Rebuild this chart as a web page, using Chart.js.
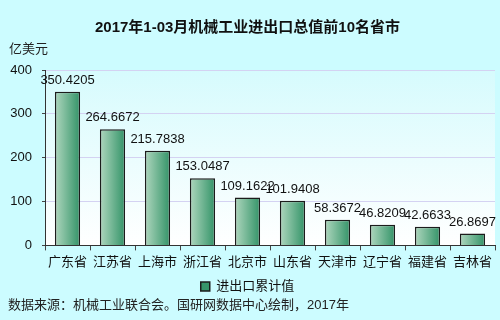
<!DOCTYPE html>
<html>
<head>
<meta charset="utf-8">
<script src="https://cdn.jsdelivr.net/npm/chart.js@4"></script>
<style>
  html, body { margin: 0; padding: 0; }
  body { width: 500px; height: 320px; background: #ccfcff; position: relative; overflow: hidden;
         font-family: "Liberation Sans", Arial, "Noto Sans CJK SC", sans-serif; }
  #wrap { position: absolute; left: 0; top: 0; width: 500px; height: 320px; }
  .note { position: absolute; font-size: 13px; color: #222; }
</style>
</head>
<body>
<div id="wrap"><canvas id="myChart" width="500" height="320"></canvas></div>
<div class="note" style="left:9px; top:38px;">亿美元</div>
<div class="note" style="left:8px; top:294px;">数据来源：机械工业联合会。国研网数据中心绘制，2017年</div>
<script>
// 2017年1-03月机械工业进出口总值前10名省市
var categories = ['广东省', '江苏省', '上海市', '浙江省', '北京市', '山东省', '天津市', '辽宁省', '福建省', '吉林省'];
var values = [350.4205, 264.6672, 215.7838, 153.0487, 109.1622, 101.9408, 58.3672, 46.8209, 42.6633, 26.8697];
var valueLabels = ['350.4205', '264.6672', '215.7838', '153.0487', '109.1622', '101.9408', '58.3672', '46.8209', '42.6633', '26.8697'];
var yTicks = [0, 100, 200, 300, 400];
var seriesName = '进出口累计值';

var FONT = '"Liberation Sans", Arial, "Noto Sans CJK SC", sans-serif';

// 柱子的渐变色（左浅右深）
function barFill(context) {
    var chart = context.chart;
    var ctx = chart.ctx;
    if (!chart.chartArea || context.dataIndex === undefined) return '#6cb48e';
    var x = chart.scales.x.getPixelForValue(context.dataIndex);
    var g = ctx.createLinearGradient(x - 12, 0, x + 12, 0);
    g.addColorStop(0, '#acd5bc');
    g.addColorStop(1, '#36956a');
    return g;
}

// 绘图区背景
var plotBg = {
    id: 'plotBg',
    beforeDraw: function(chart) {
        var a = chart.chartArea, ctx = chart.ctx;
        var g = ctx.createLinearGradient(0, a.top, 0, a.bottom);
        g.addColorStop(0, '#d6fbfd');
        g.addColorStop(1, '#ffffff');
        ctx.save();
        ctx.fillStyle = g;
        ctx.fillRect(a.left, a.top, a.right - a.left, a.bottom - a.top);
        ctx.restore();
    }
};

// 柱顶数值
var valueText = {
    id: 'valueText',
    afterDatasetsDraw: function(chart) {
        var ctx = chart.ctx;
        var meta = chart.getDatasetMeta(0);
        ctx.save();
        ctx.font = '13px ' + FONT;
        ctx.fillStyle = '#111';
        ctx.textAlign = 'center';
        ctx.textBaseline = 'bottom';
        meta.data.forEach(function(bar, i) {
            ctx.fillText(valueLabels[i], bar.x, bar.y - 5);
        });
        ctx.restore();
    }
};

var ctx = document.getElementById('myChart').getContext('2d');
var myChart = new Chart(ctx, {
    type: 'bar',
    data: {
        labels: categories,
        datasets: [{
            label: seriesName,
            data: values,
            backgroundColor: barFill,
            borderColor: '#1c1c1c',
            borderWidth: 1.5,
            categoryPercentage: 1,
            barPercentage: 0.56
        }]
    },
    options: {
        responsive: false,
        animation: false,
        devicePixelRatio: 1,
        layout: { padding: { left: 0, right: 5, top: 0, bottom: 17 } },
        plugins: {
            title: {
                display: true,
                text: '2017年1-03月机械工业进出口总值前10名省市',
                color: '#111',
                font: { family: FONT, size: 15, weight: 'bold' },
                padding: { top: 19, bottom: 33 }
            },
            legend: {
                display: true,
                position: 'bottom',
                labels: {
                    color: '#111',
                    font: { family: FONT, size: 13 },
                    boxWidth: 9,
                    boxHeight: 9,
                    padding: 6
                }
            },
            tooltip: { enabled: false }
        },
        scales: {
            x: {
                grid: { drawOnChartArea: false, drawTicks: true, tickLength: 5, color: '#444' },
                border: { color: '#333', width: 1 },
                ticks: { color: '#111', font: { family: FONT, size: 13 }, padding: 4, maxRotation: 0 }
            },
            y: {
                min: 0,
                max: 400,
                afterBuildTicks: function(scale) {
                    scale.ticks = yTicks.map(function(v) { return { value: v }; });
                },
                afterFit: function(scale) { scale.width = 45; },
                grid: { color: '#d4d2f2', tickColor: '#444', tickLength: 3 },
                border: { color: '#333', width: 1 },
                ticks: { color: '#111', font: { family: FONT, size: 13 }, padding: 10 }
            }
        }
    },
    plugins: [plotBg, valueText]
});
</script>
</body>
</html>
